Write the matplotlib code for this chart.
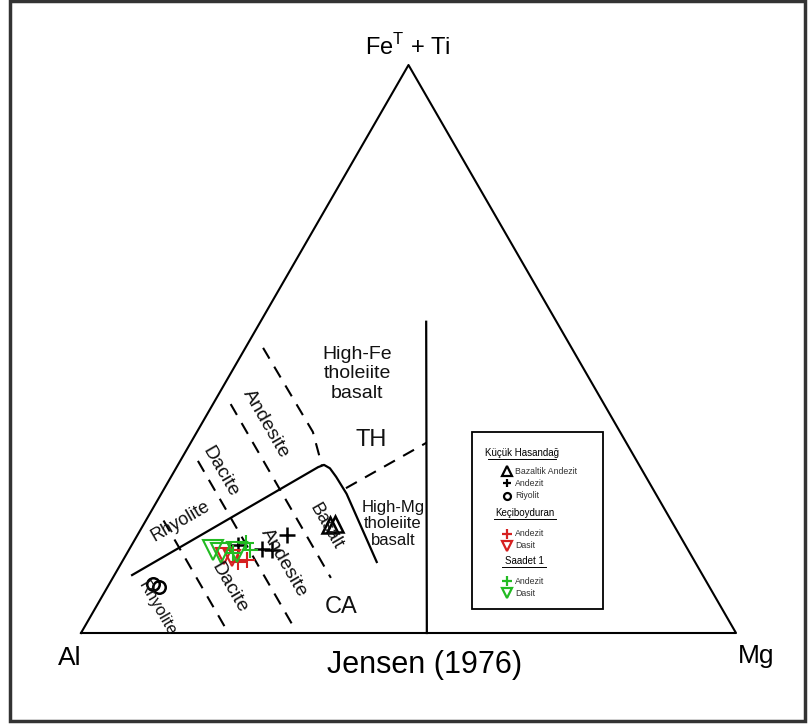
import matplotlib.pyplot as plt
from matplotlib.patches import Rectangle

plt.rcParams['font.family'] = ['Liberation Sans', 'DejaVu Sans']

# ---- data: (Al, Fe+Ti, Mg) cation % ----
kh_bazaltik_andezit = [(52.5, 19.0, 28.5), (51.6, 19.2, 29.2)]
kh_andezit = [(59.9, 17.3, 22.8), (63.5, 14.6, 21.9), (65.0, 14.8, 20.2), (68.3, 15.5, 16.2)]
kh_riyolit = [(84.7, 8.6, 6.7), (84.1, 8.1, 7.8)]
kec_andezit = [(68.2, 12.9, 18.9), (69.8, 12.5, 17.7)]
kec_dasit = [(71.4, 13.6, 15.0), (70.4, 13.2, 16.4)]
saa_andezit = [(66.8, 15.9, 17.3), (66.9, 14.6, 18.5), (69.8, 14.1, 16.1)]
saa_dasit = [(72.6, 14.6, 12.8), (71.5, 14.1, 14.4), (69.1, 14.3, 16.6)]

# field boundaries of Jensen (1976)
th_ca_line = [(87.1, 10.2, 2.7), (49.2, 29.2, 21.6), (48.1, 29.6, 22.3), (47.5, 29.0, 23.5),
              (47.3, 27.5, 25.2), (47.2, 24.5, 28.3), (48.6, 12.5, 38.9)]
mg_split_line = [(47.2, 0.0, 52.8), (19.9, 54.8, 25.3)]
rhy_dac_line = [(77.5, 19.8, 2.7), (77.5, 0.9, 21.6)]
dac_and_line = [(67.0, 30.3, 2.7), (67.0, 0.5, 32.5)]
and_bas_line = [(57.0, 40.3, 2.7), (57.0, 9.7, 33.3)]
ta_tb_line = [(47.1, 50.2, 2.7), (46.9, 35.4, 17.7), (48.5, 29.4, 22.1)]
hfe_hmg_line = [(46.8, 25.5, 27.7), (30.5, 33.5, 36.0)]

# corner positions in figure pixels
AL = (81, 633)
FE = (408.5, 65)
MG = (736, 633)


def tern(pts):
    xs, ys = [], []
    for al, fe, mg in pts:
        s = al + fe + mg
        xs.append((al * AL[0] + fe * FE[0] + mg * MG[0]) / s)
        ys.append((al * AL[1] + fe * FE[1] + mg * MG[1]) / s)
    return xs, ys


fig = plt.figure(figsize=(8.1, 7.26), dpi=100)
ax = fig.add_axes([0, 0, 1, 1])
ax.set_xlim(0, 810)
ax.set_ylim(726, 0)
ax.axis('off')

ax.add_patch(Rectangle((10, 1), 795, 720, fill=False, lw=2.5, ec='#333333'))

# triangle
tx, ty = tern([(100, 0, 0), (0, 100, 0), (0, 0, 100), (100, 0, 0)])
ax.plot(tx, ty, color='k', lw=1.5)

for line in [th_ca_line, mg_split_line]:
    x, y = tern(line)
    ax.plot(x, y, color='k', lw=1.6)
for line in [rhy_dac_line, dac_and_line, and_bas_line, ta_tb_line, hfe_hmg_line]:
    x, y = tern(line)
    ax.plot(x, y, color='k', lw=1.5, dashes=(6, 4.5))

# field labels
lab = dict(ha='center', va='center', color='#111111')
ax.text(357, 374, 'High-Fe\ntholeiite\nbasalt', fontsize=14, linespacing=1.2, **lab)
ax.text(371, 440, 'TH', fontsize=17, **lab)
ax.text(393, 524, 'High-Mg\ntholeiite\nbasalt', fontsize=12, linespacing=1.15, **lab)
ax.text(341, 607, 'CA', fontsize=17, **lab)
ax.text(266, 424, 'Andesite', fontsize=14, rotation=-60, **lab)
ax.text(220, 472, 'Dacite', fontsize=14, rotation=-60, **lab)
ax.text(181, 521, 'Rhyolite', fontsize=13, rotation=30, **lab)
ax.text(326, 526, 'Basalt', fontsize=13, rotation=-60, **lab)
ax.text(284, 563, 'Andesite', fontsize=14, rotation=-60, **lab)
ax.text(229, 588, 'Dacite', fontsize=14, rotation=-60, **lab)
ax.text(157, 608, 'Rhyolite', fontsize=12, rotation=-60, **lab)

# corner labels
ax.text(408, 47, r'Fe$^{\mathregular{T}}$ + Ti', fontsize=17, ha='center', va='center')
ax.text(70, 658, 'Al', fontsize=19, ha='center', va='center')
ax.text(756, 656, 'Mg', fontsize=19, ha='center', va='center')
ax.text(425, 665, 'Jensen (1976)', fontsize=22, ha='center', va='center')

# samples
series = [
    (kh_bazaltik_andezit, '^', 'k', 11, 1.8),
    (kh_andezit, '+', 'k', 12, 1.8),
    (kh_riyolit, 'o', 'k', 9, 1.8),
    (kec_andezit, '+', '#d62020', 11, 1.5),
    (kec_dasit, 'v', '#d62020', 11, 1.5),
    (saa_andezit, '+', '#22bb22', 11, 1.5),
    (saa_dasit, 'v', '#22bb22', 15, 1.5),
]
for pts, mk, col, ms, mew in series:
    x, y = tern(pts)
    ax.plot(x, y, ls='none', marker=mk, ms=ms, mfc='none', mec=col, mew=mew)

# legend box
ax.add_patch(Rectangle((472, 432), 131, 177, fill=False, lw=1.3, ec='k'))
headers = [('Küçük Hasandağ', 522, 453, 488, 556),
           ('Keçiboyduran', 525, 513, 494, 556),
           ('Saadet 1', 524, 561, 502, 546)]
for txt, hx, hy, u0, u1 in headers:
    ax.text(hx, hy, txt, fontsize=7, ha='center', va='center')
    ax.plot([u0, u1], [hy + 6, hy + 6], color='k', lw=0.7)

entries = [('^', 'k', 'Bazaltik Andezit', 471, 6.5), ('+', 'k', 'Andezit', 483, 6),
           ('o', 'k', 'Riyolit', 496, 5),
           ('+', '#d62020', 'Andezit', 534, 6.5), ('v', '#d62020', 'Dasit', 546, 7),
           ('+', '#22bb22', 'Andezit', 581, 6.5), ('v', '#22bb22', 'Dasit', 593, 7)]
for mk, col, txt, ey, ms in entries:
    ax.plot([507], [ey], ls='none', marker=mk, ms=ms, mfc='none', mec=col, mew=1.6)
    ax.text(515, ey, txt, fontsize=6.3, ha='left', va='center', color='#333333')

fig.savefig('out.png', dpi=100)
